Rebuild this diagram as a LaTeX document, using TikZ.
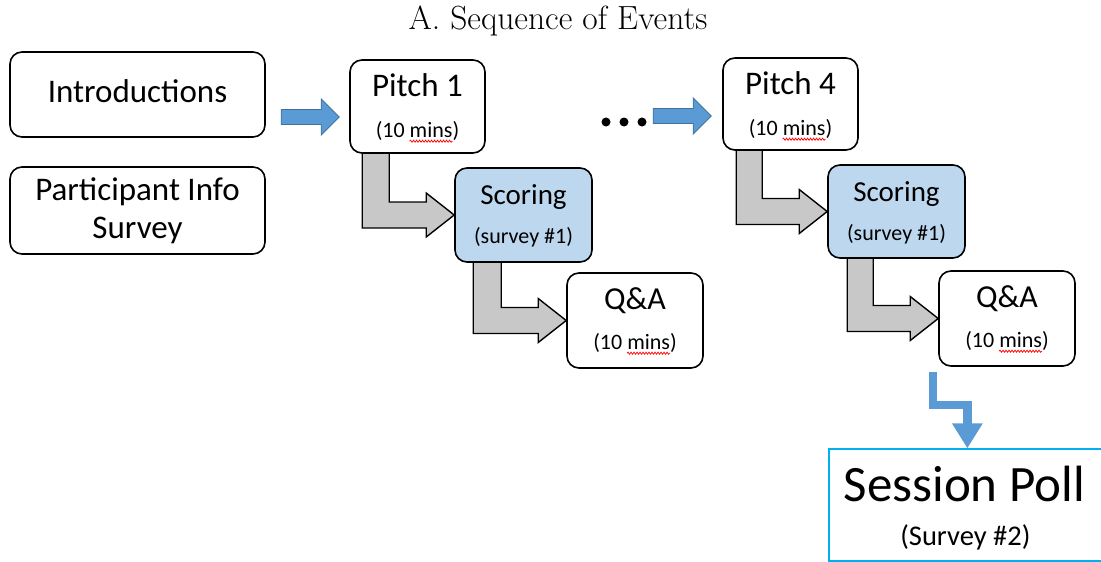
\documentclass[tikz,border=0pt]{standalone}
\usepackage{fontspec}
\newfontfamily\calfont{Carlito}
\usetikzlibrary{calc,arrows.meta,decorations.pathmorphing,backgrounds}
\definecolor{arrowblue}{HTML}{5B9BD5}
\definecolor{arrowedge}{HTML}{41719C}
\definecolor{scorefill}{HTML}{BDD7EE}
\definecolor{bentgray}{HTML}{C8C8C8}
\definecolor{pollcyan}{HTML}{00B0F0}
\newcommand\px[1]{\fontsize{#1}{#1}\selectfont}

% gray elbow arrow: down out of #1, then right into the west side of #2
% #3, #4: left and right edge of the vertical shaft, measured from #1's left side
\newcommand\elbowarrow[4]{%
  \path[grayarrow] let \p1=(#1.south west), \p2=(#2.west) in
    (\x1+#3pt,\y1+3pt) -- (\x1+#3pt,\y2-13pt) -- (\x2-28pt,\y2-13pt)
    -- (\x2-28pt,\y2-22pt) -- (\p2) -- (\x2-28pt,\y2+22pt)
    -- (\x2-28pt,\y2+13pt) -- (\x1+#4pt,\y2+13pt) -- (\x1+#4pt,\y1+3pt) -- cycle;}

% blue block arrow pointing right, tip at coordinate #1
\newcommand\blockarrow[1]{%
  \path[bluearrow] let \p1=(#1) in
    (\p1) -- ++(-18pt,18pt) -- ++(0,-10.5pt) -- ++(-40pt,0) -- ++(0,-15pt)
    -- ++(40pt,0) -- ++(0,-10.5pt) -- cycle;}

\begin{document}
\begin{tikzpicture}[x=1pt,y=-1pt,
  stepbox/.style={draw=black, line width=1.6pt, rounded corners=12pt, fill=white, inner sep=0pt},
  head/.style={font=\calfont\px{32}, anchor=base, inner sep=0pt},
  sub/.style={font=\calfont\px{22}, anchor=base, inner sep=0pt},
  grayarrow/.style={fill=bentgray, draw=black, line width=1.4pt, line join=miter},
  bluearrow/.style={fill=arrowblue, draw=arrowedge, line width=0.9pt, line join=miter},
  squiggle/.style={draw=red, line width=0.7pt, decorate,
    decoration={snake, amplitude=1.1pt, segment length=3pt}},
  dot/.style={circle, fill=black, inner sep=0pt, minimum size=9pt},
]
\useasboundingbox (0,0) rectangle (1101,562);

% title
\node[font=\px{33.5}, anchor=base, inner sep=0pt] (title) at (558,30) {A. Sequence of Events};

% left column
\node[stepbox, minimum width=255pt, minimum height=85pt] (intro) at (137.5,94.5) {};
\node[head, font=\calfont\px{33}] (introT) at ($(intro.north)+(0,51)$) {Introductions};
\node[stepbox, minimum width=255pt, minimum height=87pt] (info) at (137.5,210.5) {};
\node[head, font=\calfont\px{33}] (infoT1) at ($(info.north)+(0,34)$) {Participant Info};
\node[head, font=\calfont\px{33}] (infoT2) at ($(info.north)+(0,72)$) {Survey};

% first pitch cycle
\node[stepbox, minimum width=135pt, minimum height=93pt] (p1) at (417.5,106.5) {};
\node[head, font=\calfont\px{33}] (p1T) at ($(p1.north)+(0,37)$) {Pitch 1};
\node[sub] (p1S) at ($(p1.north)+(0,78)$) {(10 mins)};
\node[stepbox, fill=scorefill, minimum width=137pt, minimum height=94pt] (s1) at (523.5,215) {};
\node[head, font=\calfont\px{29}] (s1T) at ($(s1.north)+(0,37)$) {Scoring};
\node[sub] (s1S) at ($(s1.north)+(0,76)$) {(survey \#1)};
\node[stepbox, minimum width=136pt, minimum height=95pt] (q1) at (635,320.5) {};
\node[head] (q1T) at ($(q1.north)+(0,37)$) {Q\&A};
\node[sub] (q1S) at ($(q1.north)+(0,77)$) {(10 mins)};

% last pitch cycle
\node[stepbox, minimum width=135pt, minimum height=92pt] (p4) at (790.5,104) {};
\node[head, font=\calfont\px{33}] (p4T) at ($(p4.north)+(0,37)$) {Pitch 4};
\node[sub] (p4S) at ($(p4.north)+(0,78)$) {(10 mins)};
\node[stepbox, fill=scorefill, minimum width=137pt, minimum height=93pt] (s2) at (896.5,211.5) {};
\node[head, font=\calfont\px{29}] (s2T) at ($(s2.north)+(0,37)$) {Scoring};
\node[sub] (s2S) at ($(s2.north)+(0,76)$) {(survey \#1)};
\node[stepbox, minimum width=136pt, minimum height=95pt] (q2) at (1007,318.5) {};
\node[head] (q2T) at ($(q2.north)+(0,37)$) {Q\&A};
\node[sub] (q2S) at ($(q2.north)+(0,77)$) {(10 mins)};

% session poll
\node[draw=pollcyan, line width=1.3pt, fill=white, inner sep=0pt,
      minimum width=275pt, minimum height=112pt] (poll) at (966.5,505) {};
\node[head, font=\calfont\px{51}] (pollT) at ($(poll.north west)+(136,53)$) {Session Poll};
\node[head, font=\calfont\px{28.5}] (pollS) at ($(poll.north west)+(137,97)$) {(Survey \#2)};

% ellipsis between the cycles
\node[dot] (d1) at (606,122) {};
\node[dot] (d2) at (624,122) {};
\node[dot] (d3) at (642,122) {};

% spelling marks under "mins"
\foreach \n in {p1S,q1S,p4S,q2S}
  \draw[squiggle] ($(\n.base west)+(34,4)$) -- ++(43,0);

% elbow arrows behind the boxes
\begin{scope}[on background layer]
  \elbowarrow{p1}{s1}{13}{40}
  \elbowarrow{s1}{q1}{19}{47}
  \elbowarrow{p4}{s2}{14}{40}
  \elbowarrow{s2}{q2}{20}{46}
\end{scope}

% blue arrows into the pitches
\coordinate (t1) at ($(p1.west)+(-10,10.5)$);
\coordinate (t4) at ($(p4.west)+(-11,12)$);
\blockarrow{t1}
\blockarrow{t4}

% stepped arrow down to the poll
\coordinate (qb) at ($(q2.south west)+(-5,5)$);
\coordinate (pt) at ($(poll.north west)+(139,0)$);
\draw[arrowblue, line width=8.5pt, line join=miter,
      -{Triangle[length=25pt,width=29pt]}] (qb) -- ++(0,33) -| (pt);
\end{tikzpicture}
\end{document}
